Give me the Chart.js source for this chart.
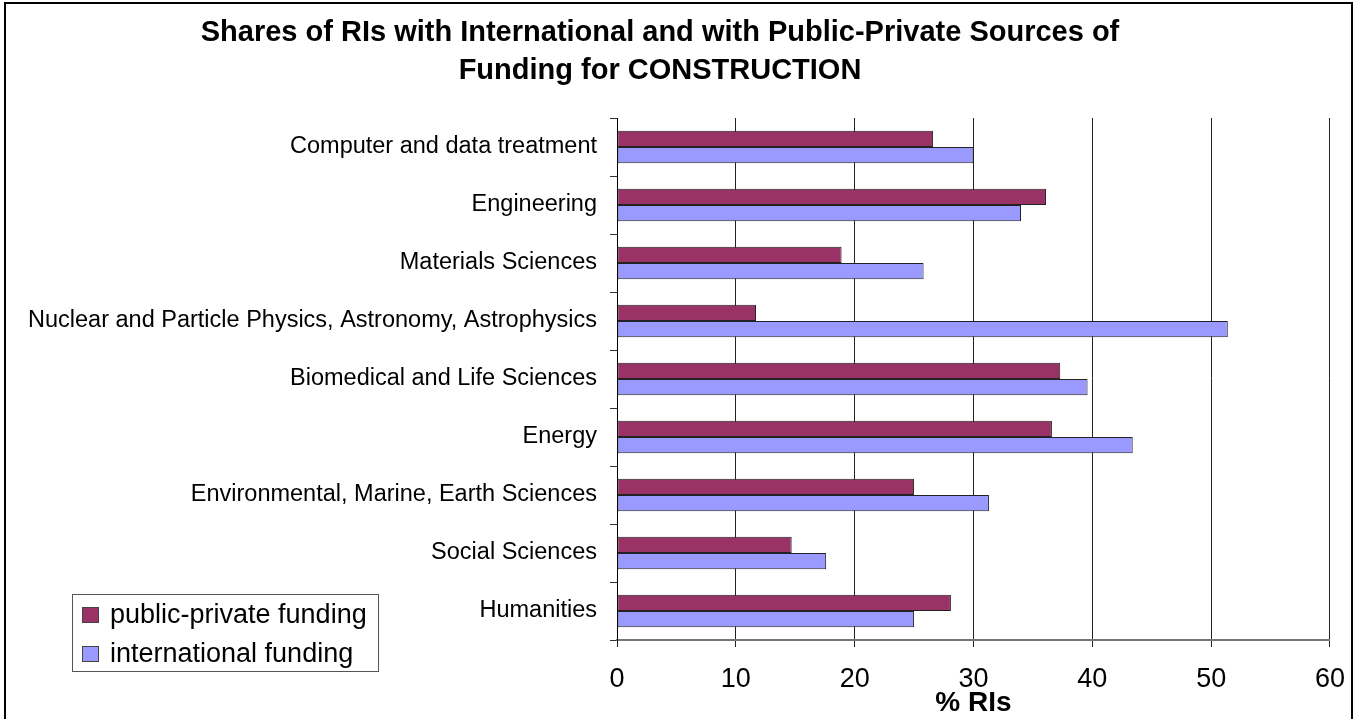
<!DOCTYPE html>
<html>
<head>
<meta charset="utf-8">
<script src="https://cdn.jsdelivr.net/npm/chart.js@4/dist/chart.umd.min.js"></script>
<style>
  html, body { margin: 0; padding: 0; background: #fff; }
  #wrap { width: 1361px; height: 719px; }
</style>
</head>
<body>
<div id="wrap"><canvas id="fundingChart" width="1361" height="719"></canvas></div>
<script>
// data
const categories = [
    'Computer and data treatment',
    'Engineering',
    'Materials Sciences',
    'Nuclear and Particle Physics, Astronomy, Astrophysics',
    'Biomedical and Life Sciences',
    'Energy',
    'Environmental, Marine, Earth Sciences',
    'Social Sciences',
    'Humanities',
];
const publicPrivate = [26.6, 36.1, 18.9, 11.7, 37.3, 36.6, 25.0, 14.7, 28.1];
const international = [30.0, 34.0, 25.8, 51.4, 39.6, 43.4, 31.3, 17.6, 25.0];
const seriesNames = ['public-private funding', 'international funding'];
const xTicks = [0, 10, 20, 30, 40, 50, 60];

const titleLines = [
    'Shares of RIs with International and with Public-Private Sources of',
    'Funding for CONSTRUCTION',
];

const FONT = "'Liberation Sans', Arial, sans-serif";

// border round the whole chart + title
const frame = {
    id: 'frame',
    beforeDraw(chart) {
        const ctx = chart.ctx;
        ctx.save();
        ctx.fillStyle = '#fff';
        ctx.fillRect(0, 0, chart.width, chart.height);
        ctx.strokeStyle = '#000';
        ctx.lineWidth = 2;
        ctx.strokeRect(5, 3, 1347, 730);
        ctx.restore();
    },
    afterDraw(chart) {
        const ctx = chart.ctx;
        ctx.save();
        ctx.fillStyle = '#000';
        ctx.font = 'bold 29px ' + FONT;
        ctx.textAlign = 'center';
        ctx.textBaseline = 'middle';
        ctx.fillText(titleLines[0], 660, 33);
        ctx.fillText(titleLines[1], 660, 71);
        ctx.restore();
    },
};

// boxed legend in the lower left corner
const boxLegend = {
    id: 'boxLegend',
    afterDraw(chart) {
        const ctx = chart.ctx;
        ctx.save();
        ctx.strokeStyle = '#555';
        ctx.lineWidth = 1;
        ctx.strokeRect(72.5, 594.5, 306, 77);
        ctx.font = '27px ' + FONT;
        ctx.textBaseline = 'middle';
        const rows = [615, 654];
        chart.data.datasets.forEach((ds, i) => {
            ctx.fillStyle = ds.backgroundColor;
            ctx.fillRect(82, rows[i] - 8, 17, 16);
            ctx.strokeStyle = '#444';
            ctx.strokeRect(82.5, rows[i] - 7.5, 16, 15);
            ctx.fillStyle = '#000';
            ctx.fillText(ds.label, 110, rows[i] + 1);
        });
        ctx.restore();
    },
};

const ctx = document.getElementById('fundingChart').getContext('2d');
new Chart(ctx, {
    type: 'bar',
    data: {
        labels: categories,
        datasets: [
            {
                label: seriesNames[0],
                data: publicPrivate,
                backgroundColor: '#993366',
                borderColor: '#222',
                borderWidth: 1,
                borderSkipped: false,
            },
            {
                label: seriesNames[1],
                data: international,
                backgroundColor: '#9999ff',
                borderColor: '#222',
                borderWidth: 1,
                borderSkipped: false,
            },
        ],
    },
    options: {
        indexAxis: 'y',
        responsive: false,
        animation: false,
        events: [],
        layout: { padding: { top: 118, right: 30, left: 0, bottom: 0 } },
        datasets: { bar: { categoryPercentage: 0.56, barPercentage: 1.0 } },
        plugins: {
            legend: { display: false },
            tooltip: { enabled: false },
        },
        scales: {
            x: {
                min: 0,
                max: 60,
                afterBuildTicks: (scale) => {
                    scale.ticks = xTicks.map((v) => ({ value: v }));
                },
                afterFit: (scale) => { scale.height = 79; },
                grid: {
                    color: '#222',
                    lineWidth: 1,
                    tickLength: 7,
                    drawTicks: true,
                },
                border: { color: '#777', width: 2 },
                ticks: {
                    color: '#000',
                    font: { family: FONT, size: 27 },
                    padding: 16,
                    maxRotation: 0,
                },
                title: {
                    display: true,
                    text: '% RIs',
                    color: '#000',
                    font: { family: FONT, size: 28, weight: 'bold' },
                    padding: { top: 0, bottom: -1 },
                },
            },
            y: {
                afterFit: (scale) => { scale.width = 617; },
                grid: {
                    offset: true,
                    drawOnChartArea: false,
                    tickLength: 7,
                    color: '#333',
                },
                border: { color: '#000', width: 1 },
                ticks: {
                    color: '#000',
                    font: { family: FONT, size: 23.5 },
                    padding: 13,
                },
            },
        },
    },
    plugins: [frame, boxLegend],
});
</script>
</body>
</html>
